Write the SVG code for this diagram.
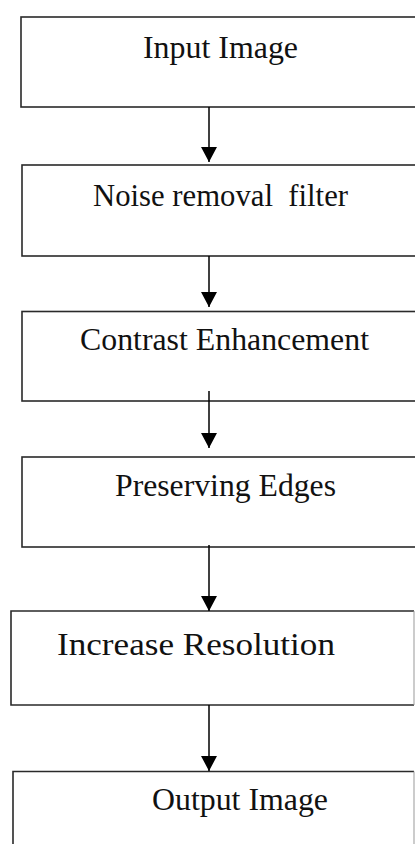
<svg xmlns="http://www.w3.org/2000/svg" width="415" height="844" viewBox="0 0 415 844">
  <style>
    .box { fill: #ffffff; stroke: #2a2a2a; stroke-width: 1.6; }
    .edge { stroke: #999999; stroke-width: 1; fill: none; }
    .lbl { font-family: 'Liberation Serif', 'DejaVu Serif', serif; font-size: 31px; fill: #111111; }
    .conn { stroke: #000000; stroke-width: 1.5; fill: none; marker-end: url(#arrow); }
  </style>
  <defs>
    <marker id="arrow" markerUnits="userSpaceOnUse" markerWidth="16" markerHeight="16" viewBox="0 0 16 16" refX="15" refY="8" orient="auto">
      <path d="M0,0 L15,8 L0,16 Z" fill="#000000"/>
    </marker>
  </defs>
  <rect width="415" height="844" fill="#ffffff"/>

  <g id="node-input">
    <rect class="box" x="21" y="17" width="420" height="90"/>
    <text class="lbl" font-family="Liberation Serif, serif" x="143" y="58" textLength="155" lengthAdjust="spacingAndGlyphs">Input Image</text>
  </g>
  <g id="node-noise">
    <rect class="box" x="22" y="165" width="420" height="91"/>
    <text class="lbl" font-family="Liberation Serif, serif" x="93" y="206" textLength="255" lengthAdjust="spacingAndGlyphs" xml:space="preserve">Noise removal  filter</text>
  </g>
  <g id="node-contrast">
    <rect class="box" x="22" y="311.5" width="420" height="89.5"/>
    <text class="lbl" font-family="Liberation Serif, serif" x="80" y="350" textLength="289" lengthAdjust="spacingAndGlyphs">Contrast Enhancement</text>
  </g>
  <g id="node-edges">
    <rect class="box" x="22" y="457" width="420" height="90"/>
    <text class="lbl" font-family="Liberation Serif, serif" x="115" y="496" textLength="221" lengthAdjust="spacingAndGlyphs">Preserving Edges</text>
  </g>
  <g id="node-resolution">
    <rect x="11" y="611" width="403" height="94" fill="#ffffff"/>
    <path class="box" d="M414,611 H11 V705 H414" style="fill:none"/>
    <line class="edge" x1="414" y1="611" x2="414" y2="705"/>
    <text class="lbl" font-family="Liberation Serif, serif" x="57" y="655" textLength="278" lengthAdjust="spacingAndGlyphs">Increase Resolution</text>
  </g>
  <g id="node-output">
    <path class="box" d="M414,771.5 H13 V850" style="fill:none"/>
    <line class="edge" x1="414" y1="771.5" x2="414" y2="844"/>
    <text class="lbl" font-family="Liberation Serif, serif" x="152" y="810" textLength="176" lengthAdjust="spacingAndGlyphs">Output Image</text>
  </g>

  <g id="connectors">
    <line class="conn" x1="209" y1="107" x2="209" y2="162"/>
    <line class="conn" x1="209" y1="256" x2="209" y2="307"/>
    <line class="conn" x1="209" y1="391" x2="209" y2="448"/>
    <line class="conn" x1="209" y1="545" x2="209" y2="611"/>
    <line class="conn" x1="209" y1="705" x2="209" y2="771"/>
  </g>
</svg>
